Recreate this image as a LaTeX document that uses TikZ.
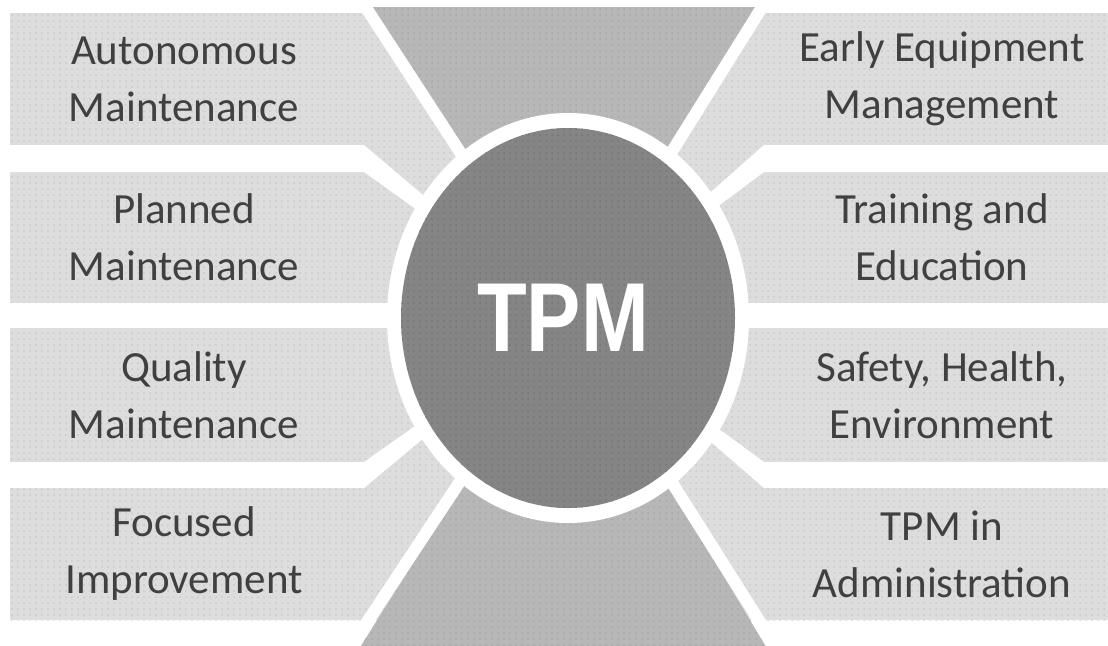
\documentclass[tikz,border=0pt]{standalone}
\usepackage{fontspec}
\setmainfont{Carlito}
\newfontfamily\hubfont{Liberation Sans}
\usetikzlibrary{patterns}
\definecolor{boxgray}{HTML}{DDDDDD}
\definecolor{boxdot}{HTML}{CACACA}
\definecolor{wedgegray}{HTML}{B7B7B7}
\definecolor{wedgedot}{HTML}{A8A8A8}
\definecolor{hubgray}{HTML}{858585}
\definecolor{hubdot}{HTML}{767676}
\definecolor{labelgray}{HTML}{404040}

\begin{document}
\begin{tikzpicture}[x=0.5pt,y=-0.5pt,
	pillar/.style={fill=boxgray,postaction={pattern=dots,pattern color=boxdot}},
	wedge/.style={fill=wedgegray,postaction={pattern=dots,pattern color=wedgedot}},
	hub/.style={fill=hubgray,postaction={pattern=dots,pattern color=hubdot}},
	gap/.style={draw=white,line width=6pt},
	pillartext/.style={align=center,inner sep=0pt,text=labelgray,font=\fontsize{21.5}{28.5}\selectfont},
	hubtext/.style={inner sep=0pt,text=white,font=\hubfont\bfseries\fontsize{49}{49}\selectfont}]
\clip (0,0) rectangle (1108,645);
\coordinate (c) at (568,318);
\fill [pillar] (10,13) rectangle (1130,620);
\fill [wedge] (c) -- (365.5,7) -- (762.5,7) -- cycle;
\fill [wedge] (c) -- (352,660) -- (774,660) -- cycle;
\draw [gap] (c) -- (348,-20);
\draw [gap] (c) -- (779,-20);
\draw [gap] (c) -- (342,660);
\draw [gap] (c) -- (784,660);
\fill [white] (-10,145) -- (364,145) -- (c) -- (364,172) -- (-10,172) -- cycle;
\fill [white] (-10,303) rectangle (420,328);
\fill [white] (-10,462) -- (364,462) -- (c) -- (364,488) -- (-10,488) -- cycle;
\fill [white] (1130,145) -- (764,145) -- (c) -- (764,172) -- (1130,172) -- cycle;
\fill [white] (716,303) rectangle (1130,328);
\fill [white] (1130,462) -- (764,462) -- (c) -- (764,488) -- (1130,488) -- cycle;
\fill [white] (c) ellipse [x radius=90.5pt,y radius=102.5pt];
\fill [hub] (c) ellipse [x radius=83.5pt,y radius=95pt];
\node [hubtext] (tpm) at (563,318) {\scalebox{0.83}[1]{TPM}};
\node [pillartext] (am) at (184,79) {Autonomous\\Maintenance};
\node [pillartext] (pm) at (184,237.5) {Planned\\Maintenance};
\node [pillartext] (qm) at (184,395) {Quality\\Maintenance};
\node [pillartext] (fi) at (184,554) {Focused\\Improvement};
\node [pillartext] (eem) at (942,79) {Early Equipment\\Management};
\node [pillartext] (te) at (942,237.5) {Training and\\Education};
\node [pillartext] (she) at (942,395) {Safety, Health,\\Environment};
\node [pillartext] (ta) at (942,554) {TPM in\\Administration};
\end{tikzpicture}
\end{document}
